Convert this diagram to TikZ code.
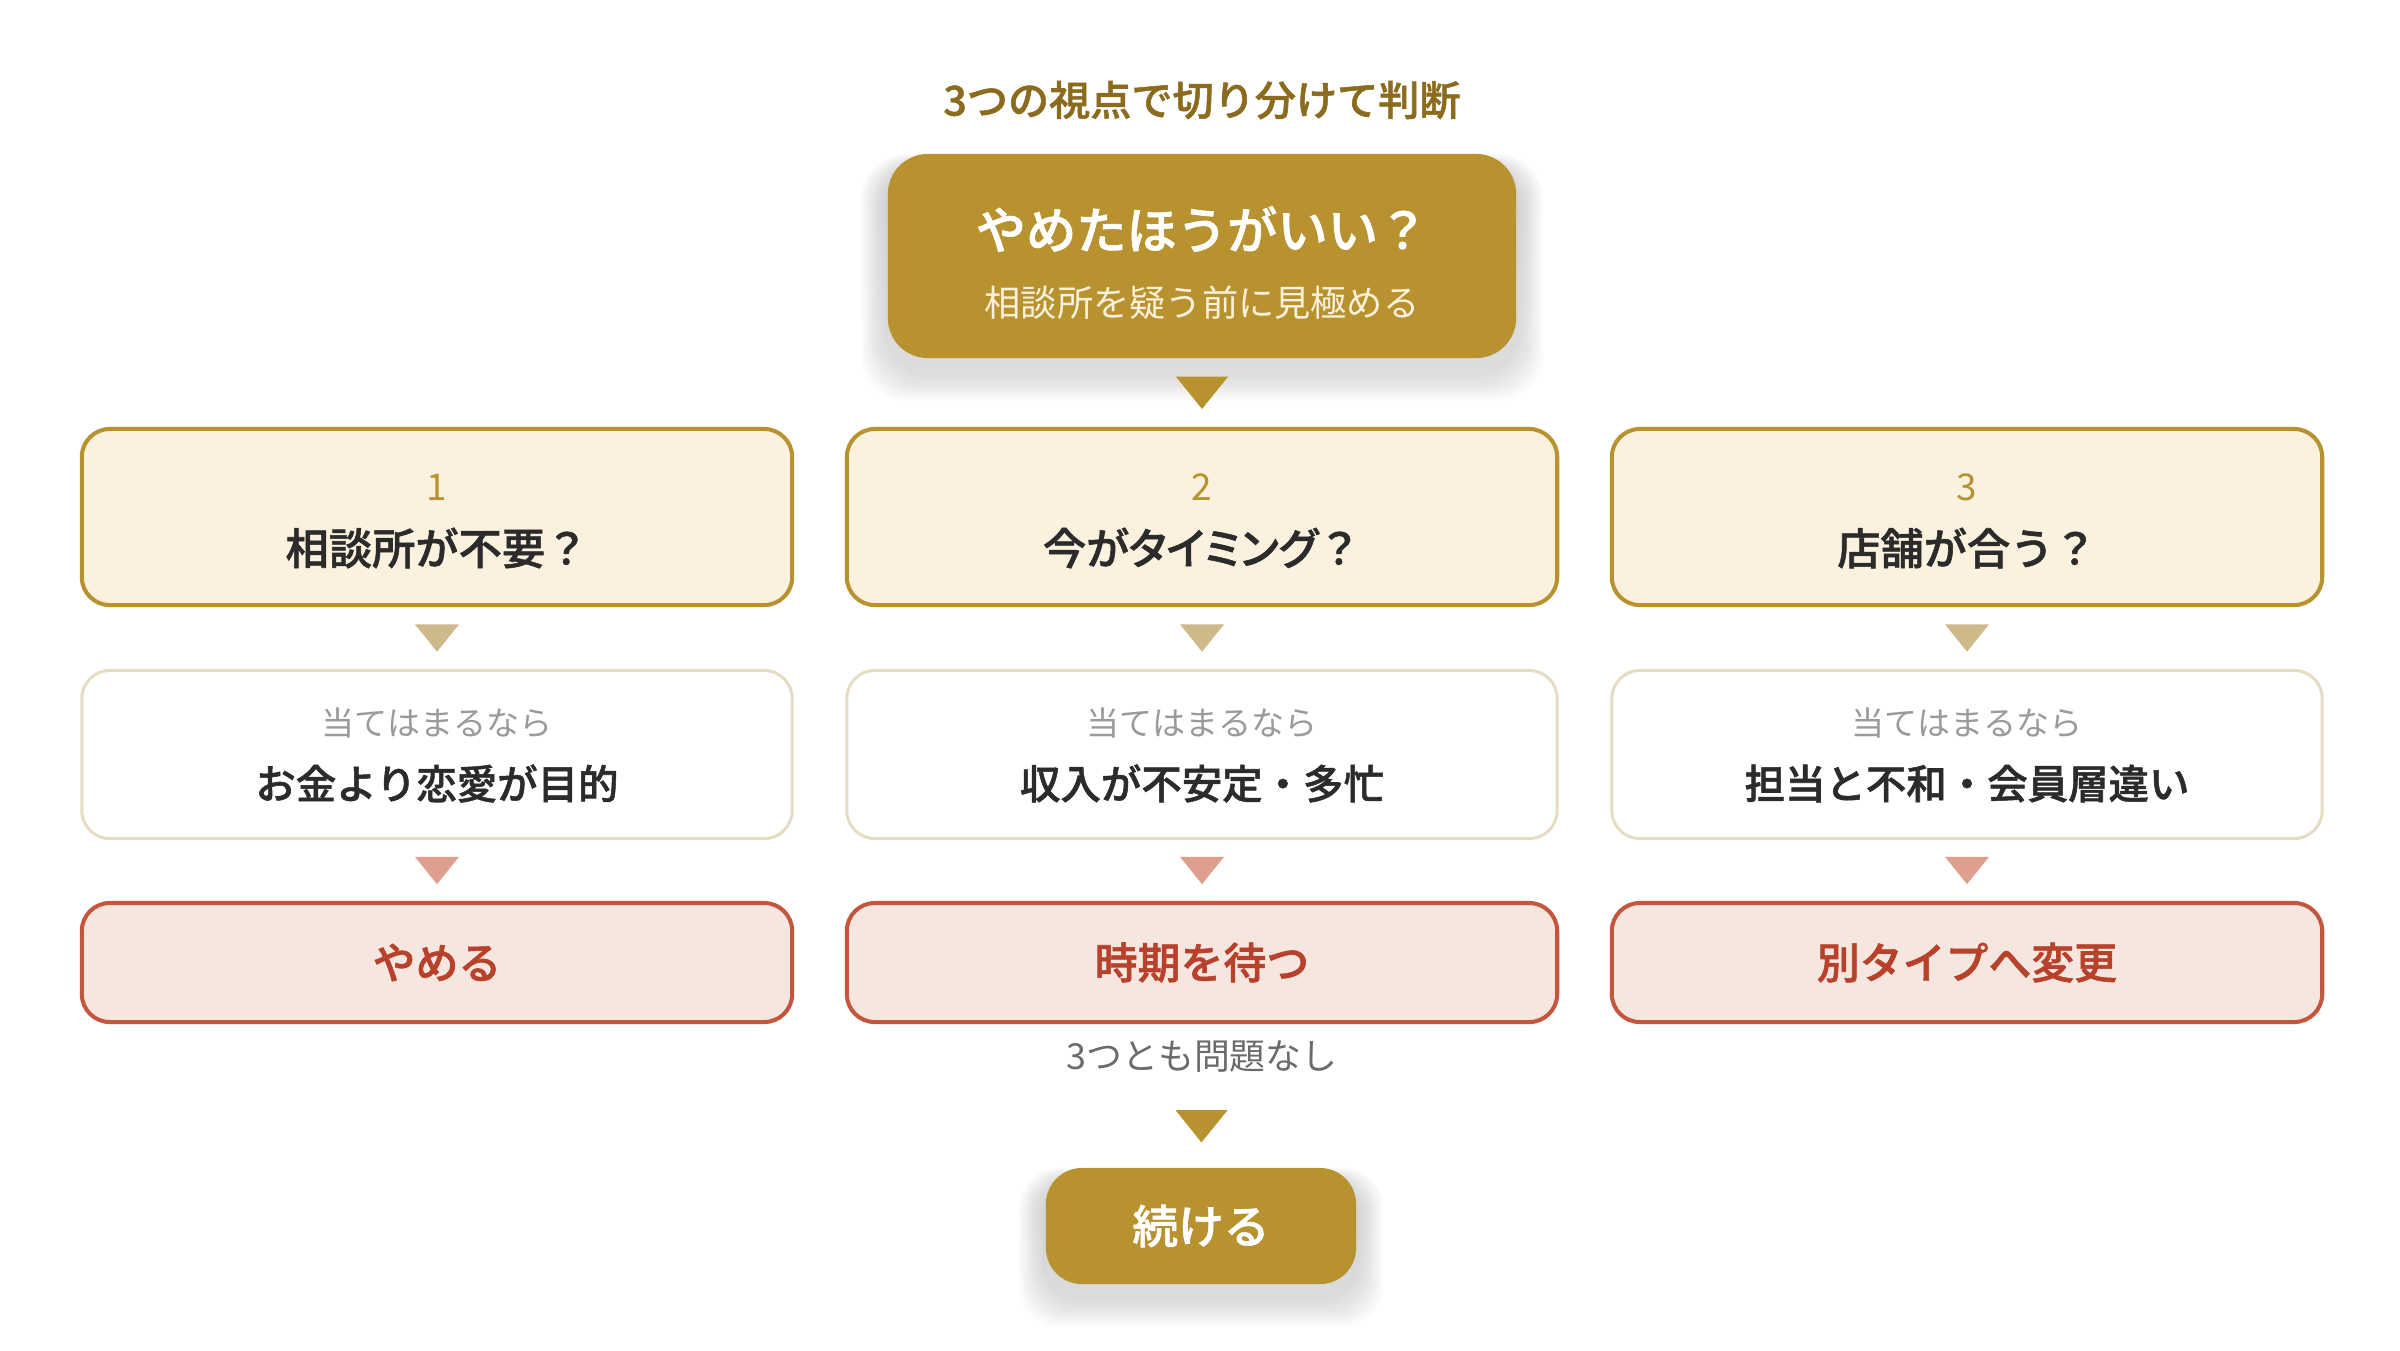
\documentclass[tikz,border=0pt]{standalone}
\usepackage{fontspec}
\setmainfont[BoldFont={Noto Sans CJK JP Medium}, BoldFeatures={FakeBold=1.3}]{Noto Sans CJK JP}
\usetikzlibrary{positioning, calc, backgrounds}

\definecolor{gold}{HTML}{B8922E}
\definecolor{golddark}{HTML}{8B6B1E}
\definecolor{cream}{HTML}{FAF2DF}
\definecolor{tanC}{HTML}{CDB98A}
\definecolor{paleline}{HTML}{E6DCC3}
\definecolor{salmon}{HTML}{DF9F8E}
\definecolor{redline}{HTML}{C4563E}
\definecolor{redfill}{HTML}{F6E6E0}
\definecolor{redtext}{HTML}{B7412A}
\definecolor{ink}{HTML}{2B2B2B}
\definecolor{softgray}{HTML}{9A9A9A}
\definecolor{midgray}{HTML}{6B6B6B}
\definecolor{subtext}{HTML}{FBF1DA}
\definecolor{shade}{HTML}{D8B86A}

\newcommand{\fs}[1]{\fontsize{#1}{1.2\dimexpr#1\relax}\selectfont}

\begin{document}
\begin{tikzpicture}[
		x=0.01cm, y=-0.01cm,
		BoxCfg/.style={rounded corners=0.28cm, line width=1.15pt,
			minimum width=7.10cm, inner sep=0pt},
		QBox/.style={BoxCfg, draw=gold, fill=cream, minimum height=1.76cm},
		CBox/.style={BoxCfg, draw=paleline, line width=0.85pt, fill=white,
			minimum height=1.68cm},
		RBox/.style={BoxCfg, draw=redline, fill=redfill, minimum height=1.19cm,
			text=redtext, font=\fs{12.2pt}\bfseries},
		GoldBox/.style={fill=gold, inner sep=0pt},
		NumTxt/.style={text=gold, font=\fs{10.5pt}},
		QTxt/.style={text=ink, font=\fs{12.3pt}\bfseries},
		IfTxt/.style={text=softgray, font=\fs{9.4pt}},
		CaseTxt/.style={text=ink, font=\fs{11.5pt}\bfseries},
		downtri/.pic={\path[pic actions] (-1,-0.62) -- (1,-0.62) -- (0,0.62) -- cycle;}
		]
		
		\useasboundingbox (0,0) rectangle (2400,1350);
		
		% title and question
		\node[text=golddark, font=\fs{11.7pt}\bfseries] (Title) at (1202,100) {3つの視点で切り分けて判断};
		\node[GoldBox, rounded corners=0.4cm, minimum width=6.28cm, minimum height=2.04cm] (Top) at (1202,256) {};
		\node[text=white, font=\fs{14.3pt}\bfseries] (TopMain) at ($(Top)+(0,-27)$) {やめたほうがいい？};
		\node[text=subtext, font=\fs{10.3pt}] (TopSub) at ($(Top)+(0,47)$) {相談所を疑う前に見極める};
		
		% three checks
		\node[QBox] (Q1) at (437,517) {};
		\node[QBox] (Q2) at (1202,517) {};
		\node[QBox] (Q3) at (1967,517) {};
		\node[NumTxt] at ($(Q1)+(0,-30)$) {1};
		\node[NumTxt] at ($(Q2)+(0,-30)$) {2};
		\node[NumTxt] at ($(Q3)+(0,-30)$) {3};
		\node[QTxt] at ($(Q1)+(0,31)$) {相談所が不要？};
		\node[QTxt] at ($(Q2)+(0,31)$) {{\addfontfeatures{RawFeature=+palt}今がタイミング}？};
		\node[QTxt] at ($(Q3)+(0,31)$) {店舗が合う？};
		
		% conditions
		\node[CBox] (C1) at (437,754.5) {};
		\node[CBox] (C2) at (1202,754.5) {};
		\node[CBox] (C3) at (1967,754.5) {};
		\node[IfTxt] at ($(C1)+(0,-32)$) {当てはまるなら};
		\node[IfTxt] at ($(C2)+(0,-32)$) {当てはまるなら};
		\node[IfTxt] at ($(C3)+(0,-32)$) {当てはまるなら};
		\node[CaseTxt] at ($(C1)+(0,29)$) {お金より恋愛が目的};
		\node[CaseTxt] at ($(C2)+(0,29)$) {収入が不安定・多忙};
		\node[CaseTxt] at ($(C3)+(0,29)$) {担当と不和・会員層違い};
		
		% results
		\node[RBox] (R1) at (437,962.5) {やめる};
		\node[RBox] (R2) at (1202,962.5) {時期を待つ};
		\node[RBox] (R3) at (1967,962.5) {別タイプへ変更};
		
		\node[text=midgray, font=\fs{10.2pt}] (Pass) at (1202,1057) {3つとも問題なし};
		\node[GoldBox, rounded corners=0.36cm, minimum width=3.10cm, minimum height=1.16cm,
			text=white, font=\fs{13pt}\bfseries] (Keep) at (1201,1226) {続ける};
		
		% triangles
		\pic[fill=gold, scale=26] at ($(Top.south)!0.5!(Q2.north)$) {downtri};
		\pic[fill=tanC, scale=22] at ($(Q1.south)!0.5!(C1.north)$) {downtri};
		\pic[fill=tanC, scale=22] at ($(Q2.south)!0.5!(C2.north)$) {downtri};
		\pic[fill=tanC, scale=22] at ($(Q3.south)!0.5!(C3.north)$) {downtri};
		\pic[fill=salmon, scale=22] at ($(C1.south)!0.5!(R1.north)$) {downtri};
		\pic[fill=salmon, scale=22] at ($(C2.south)!0.5!(R2.north)$) {downtri};
		\pic[fill=salmon, scale=22] at ($(C3.south)!0.5!(R3.north)$) {downtri};
		\pic[fill=gold, scale=26] at ($(Pass.south)!0.5!(Keep.north)$) {downtri};
		
		% soft shadows
		\begin{scope}[on background layer]
			\foreach \s in {1,...,12} {
				\fill[shade, opacity=0.011, rounded corners=0.45cm]
				([shift={(-2.2*\s,16-1.3*\s)}]Top.north west) rectangle ([shift={(2.2*\s,16+2.2*\s)}]Top.south east);
				\fill[shade, opacity=0.011, rounded corners=0.4cm]
				([shift={(-2.2*\s,16-1.3*\s)}]Keep.north west) rectangle ([shift={(2.2*\s,16+2.2*\s)}]Keep.south east);
			}
		\end{scope}
		\end{tikzpicture}
\end{document}
